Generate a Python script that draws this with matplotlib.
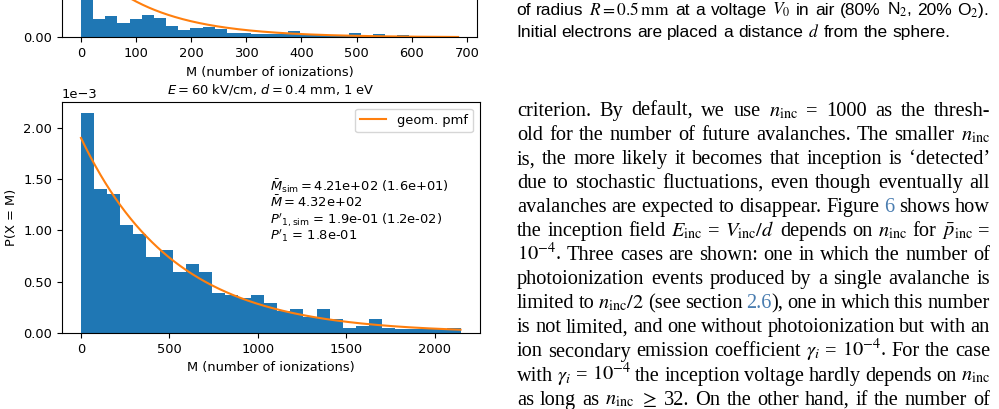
import re
import matplotlib
matplotlib.use("Agg")
import matplotlib.pyplot as plt
import numpy as np
from matplotlib.ticker import FuncFormatter

W, H = 999, 409

# top histogram (cropped panel), probability density per bin
top_heights = [2.20e-2, 1.83e-3, 2.13e-3, 1.40e-3, 1.83e-3, 2.23e-3, 1.93e-3,
               1.13e-3, 0.73e-3, 0.93e-3, 1.03e-3, 0.87e-3, 0.43e-3, 0.43e-3,
               0.37e-3, 0.37e-3, 0.30e-3, 0.67e-3, 0.23e-3, 0.37e-3, 0.17e-3,
               0.27e-3, 0.47e-3, 0.17e-3, 0.37e-3, 0.10e-3, 0.20e-3, 0.05e-3,
               0.05e-3, 0.10e-3, 0.07e-3]
top_max_m = 684
top_p = 0.008

# bottom histogram, E = 60 kV/cm, d = 0.4 mm
bot_heights = [2.14e-3, 1.40e-3, 1.35e-3, 1.05e-3, 0.965e-3, 0.74e-3, 0.81e-3,
               0.595e-3, 0.67e-3, 0.595e-3, 0.39e-3, 0.37e-3, 0.34e-3, 0.37e-3,
               0.29e-3, 0.21e-3, 0.23e-3, 0.16e-3, 0.23e-3, 0.136e-3, 0.049e-3,
               0.068e-3, 0.136e-3, 0.05e-3, 0.039e-3, 0.039e-3, 0.039e-3,
               0.039e-3, 0.045e-3]
bot_max_m = 2147
bot_p = 1.9e-3

stats_lines = [r"$\bar{M}_{\rm sim} = 4.21$e+02 (1.6e+01)",
               r"$\bar{M} = 4.32$e+02",
               r"$P'_{1,\rm sim}$ = 1.9e-01 (1.2e-02)",
               r"$P'_1$ = 1.8e-01"]

caption_lines = [r"of radius $R=0.5\,\mathrm{mm}$ at a voltage $V_0$ in air (80% N$_2$, 20% O$_2$).",
                 r"Initial electrons are placed a distance $d$ from the sphere."]

body_lines = [
    r"criterion. By default, we use $n_\mathrm{inc}$ = 1000 as the thresh-",
    r"old for the number of future avalanches. The smaller $n_\mathrm{inc}$",
    "is, the more likely it becomes that inception is \u2018detected\u2019",
    "due to stochastic fluctuations, even though eventually all",
    "avalanches are expected to disappear. Figure {{6}} shows how",
    r"the inception field $E_\mathrm{inc}$ = $V_\mathrm{inc}/d$ depends on $n_\mathrm{inc}$ for $\bar{p}_\mathrm{inc}$ =",
    r"$10^{-4}$. Three cases are shown: one in which the number of",
    "photoionization events produced by a single avalanche is",
    r"limited to $n_\mathrm{inc}/2$ (see section {{2.6}}), one in which this number",
    "is not limited, and one without photoionization but with an",
    r"ion secondary emission coefficient $\gamma_i$ = $10^{-4}$. For the case",
    r"with $\gamma_i$ = $10^{-4}$ the inception voltage hardly depends on $n_\mathrm{inc}$",
    r"as long as $n_\mathrm{inc}$ $\geq$ 32. On the other hand, if the number of",
]
link_color = "#4a7db0"

plt.rcParams["font.size"] = 9.4
fig = plt.figure(figsize=(W / 100, H / 100), dpi=100)


def sci_fmt(scale):
    f = FuncFormatter(lambda v, pos: f"{v * 10**scale:.2f}")
    f.set_offset_string(f"1e\u2212{scale}")
    return f


# top panel, cut off by the page edge (only its lower strip is on the page)
ax_top = fig.add_axes([62 / W, 1 - 37.3 / H, 415 / W, 231 / H])
edges = np.linspace(0, top_max_m, len(top_heights) + 1)
ax_top.bar(edges[:-1], top_heights, width=np.diff(edges), align="edge", color="tab:blue")
m = np.arange(0, top_max_m + 1)
ax_top.plot(m, top_p * (1 - top_p) ** m, color="tab:orange")
ax_top.set_xlabel("M (number of ionizations)")
ax_top.set_yticks([0])
ax_top.yaxis.set_major_formatter(FuncFormatter(lambda v, pos: f"{v:.2f}"))

# bottom panel
ax = fig.add_axes([62 / W, 1 - 333 / H, 417.5 / W, 230.7 / H])
edges = np.linspace(0, bot_max_m, len(bot_heights) + 1)
ax.bar(edges[:-1], bot_heights, width=np.diff(edges), align="edge", color="tab:blue")
m = np.arange(0, bot_max_m + 1)
ax.plot(m, bot_p * (1 - bot_p) ** m, color="tab:orange", label="geom. pmf")
ax.set_xlabel("M (number of ionizations)")
ax.set_ylabel("P(X = M)")
ax.set_title(r"$E = 60$ kV/cm, $d = 0.4$ mm, 1 eV", fontsize=9.4)
ax.yaxis.set_major_formatter(sci_fmt(3))
ax.legend(loc="upper right")
for i, s in enumerate(stats_lines):
    fig.text(270 / W, 1 - (191 + 16.3 * i) / H, s, va="baseline")

# page text on the right
renderer = fig.canvas.get_renderer()


def place_line(line, y, x0, x1, size, family, justify=True):
    words = []
    for tok in line.split(" "):
        segs = []
        for part in re.split(r"(\{\{.*?\}\})", tok):
            if not part:
                continue
            color = "black"
            if part.startswith("{{"):
                part, color = part[2:-2], link_color
            t = fig.text(0, 0, part, fontsize=size, family=family,
                         math_fontfamily="stix", color=color, va="baseline")
            segs.append([t, t.get_window_extent(renderer).width])
        words.append(segs)
    widths = [sum(w for _, w in segs) for segs in words]
    if justify:
        gap = (x1 - x0 - sum(widths)) / (len(words) - 1)
    else:
        sp = fig.text(0, 0, "a a", fontsize=size, family=family)
        sp2 = fig.text(0, 0, "aa", fontsize=size, family=family)
        gap = sp.get_window_extent(renderer).width - sp2.get_window_extent(renderer).width
        sp.remove()
        sp2.remove()
    x = x0
    for segs, w in zip(words, widths):
        xx = x
        for t, ww in segs:
            t.set_position((xx / W, 1 - y / H))
            xx += ww
        x += w + gap


# fit caption size to the width of its last line
probe = fig.text(0, 0, caption_lines[1], fontsize=10, family="Liberation Sans",
                 math_fontfamily="stix")
cap_size = 10 * 432 / probe.get_window_extent(renderer).width
probe.remove()

place_line(caption_lines[0], 15, 516, 989, cap_size, "Liberation Sans")
place_line(caption_lines[1], 37.3, 516, 989, cap_size, "Liberation Sans", justify=False)

for i, line in enumerate(body_lines):
    place_line(line, 116 + 24.05 * i, 517, 990, 14.7, "Liberation Serif")

fig.savefig("out.png", dpi=100)
